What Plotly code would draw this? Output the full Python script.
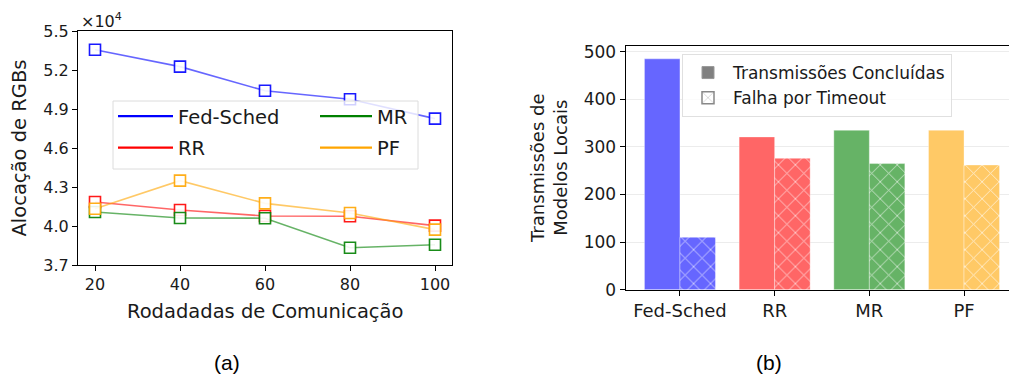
import plotly.graph_objects as go

W, H = 1009, 378

# ---------------- data ----------------
rounds = [20, 40, 60, 80, 100]
fed_sched = [53560, 52260, 50400, 49750, 48260]
rr = [41850, 41230, 40770, 40750, 40030]
mr = [41080, 40620, 40600, 38330, 38560]
pf = [41330, 43490, 41740, 41000, 39720]
yticks_left = [37000, 40000, 43000, 46000, 49000, 52000, 55000]
yticklabels_left = ["3.7", "4.0", "4.3", "4.6", "4.9", "5.2", "5.5"]

schemes = ["Fed-Sched", "RR", "MR", "PF"]
completed = [485, 321, 335, 335]
timeout = [110, 276, 265, 262]

line_colors = {"Fed-Sched": (0, 0, 255), "RR": (255, 0, 0), "MR": (0, 128, 0), "PF": (255, 165, 0)}
bar_colors = ["#6666FF", "#FF6666", "#66B366", "#FFC966"]

FONT = "DejaVu Sans"
BAR_W = 0.375


def px(x):
    return x / W


def py(y):
    return 1 - y / H


def rgba(c, a):
    return f"rgba({c[0]},{c[1]},{c[2]},{a})"


fig = go.Figure()

# ---------------- left: line chart ----------------
series = [("Fed-Sched", fed_sched), ("RR", rr), ("MR", mr), ("PF", pf)]
for name, vals in series:
    c = line_colors[name]
    fig.add_trace(go.Scatter(
        x=rounds, y=vals, mode="lines+markers", name=name, showlegend=False,
        line=dict(color=rgba(c, 0.6), width=1.6),
        marker=dict(symbol="square", size=11, color="rgba(255,255,255,0.9)",
                    line=dict(color=rgba(c, 0.9), width=1.6)),
        xaxis="x", yaxis="y"))

# legend-only entries (two columns)
for name, leg in [("Fed-Sched", "legend"), ("RR", "legend"), ("MR", "legend2"), ("PF", "legend2")]:
    c = line_colors[name]
    fig.add_trace(go.Scatter(
        x=[None], y=[None], mode="lines", name=name, legend=leg, legendgroup=name,
        line=dict(color=rgba(c, 1), width=2.2), xaxis="x", yaxis="y"))

# ---------------- right: bar chart ----------------
fig.add_trace(go.Bar(
    x=schemes, y=completed, name="Transmissões Concluídas", showlegend=False,
    width=BAR_W, offset=-BAR_W,
    marker=dict(color=bar_colors, line=dict(color="rgba(255,255,255,0.35)", width=1)),
    xaxis="x2", yaxis="y2"))
for s, v, col in zip(schemes, timeout, bar_colors):
    fig.add_trace(go.Bar(
        x=[s], y=[v], name="Falha por Timeout", showlegend=False,
        width=BAR_W, offset=0,
        marker=dict(color=col, line=dict(color="rgba(255,255,255,0.35)", width=1),
                    pattern=dict(shape="x", fillmode="overlay", bgcolor=col,
                                 fgcolor="white", fgopacity=0.7, size=12, solidity=0.14)),
        xaxis="x2", yaxis="y2"))
# legend entries for the bar chart
fig.add_trace(go.Bar(
    x=[None], y=[None], name="Transmissões Concluídas", legend="legend3",
    marker=dict(color="#808080", line=dict(color="#999999", width=1)),
    xaxis="x2", yaxis="y2"))
fig.add_trace(go.Bar(
    x=[None], y=[None], name="Falha por Timeout", legend="legend3",
    marker=dict(color="white", line=dict(color="#888888", width=1.5),
                pattern=dict(shape="x", fillmode="overlay", bgcolor="white",
                             fgcolor="#888888", size=10, solidity=0.15)),
    xaxis="x2", yaxis="y2"))

axis_common = dict(showline=True, linecolor="black", linewidth=1.2, ticks="outside",
                   ticklen=5, tickwidth=1.2, tickcolor="black", automargin=False,
                   zeroline=False)

fig.update_layout(
    width=W, height=H, margin=dict(l=0, r=0, t=0, b=0),
    paper_bgcolor="white", plot_bgcolor="white",
    font=dict(family=FONT, color="#1a1a1a"),
    barmode="overlay",
    xaxis=dict(domain=[px(78), px(452)], range=[16, 104], tickvals=rounds,
               mirror=True, showgrid=False, tickfont=dict(size=16), anchor="y", **axis_common),
    yaxis=dict(domain=[py(265), py(31)], range=[37000, 55000], tickvals=yticks_left,
               ticktext=yticklabels_left, mirror=True, showgrid=False,
               tickfont=dict(size=16), anchor="x", **axis_common),
    xaxis2=dict(domain=[px(625.7), 1.0], range=[-0.573, 3.475], mirror=True, showgrid=False,
                tickfont=dict(size=18), anchor="y2", **axis_common),
    yaxis2=dict(domain=[py(289.7), py(46)], range=[0, 512], tickvals=[0, 100, 200, 300, 400, 500],
                showgrid=True, gridcolor="#ececec", gridwidth=1,
                tickfont=dict(size=17), anchor="x2", **axis_common),
    legend=dict(x=px(113), y=py(97), xanchor="left", yanchor="top",
                bgcolor="rgba(0,0,0,0)", borderwidth=0, font=dict(size=19.5, family=FONT),
                tracegroupgap=3, itemwidth=55),
    legend2=dict(x=px(315), y=py(97), xanchor="left", yanchor="top",
                 bgcolor="rgba(0,0,0,0)", borderwidth=0, font=dict(size=19.5, family=FONT),
                 tracegroupgap=3, itemwidth=52),
    legend3=dict(x=px(682), y=py(54), xanchor="left", yanchor="top",
                 bgcolor="rgba(255,255,255,0.8)", bordercolor="#e0e0e0", borderwidth=1,
                 font=dict(size=17, family=FONT), itemwidth=40, tracegroupgap=2),
    shapes=[dict(type="rect", xref="paper", yref="paper",
                 x0=px(113), x1=px(418), y0=py(169), y1=py(101),
                 fillcolor="rgba(255,255,255,0.8)", line=dict(color="#dcdcdc", width=1),
                 layer="above")],
    annotations=[
        dict(text="×10<sup>4</sup>", x=px(79), y=py(20), xref="paper", yref="paper",
             xanchor="left", yanchor="middle", showarrow=False, font=dict(size=16)),
        dict(text="Rodadadas de Comunicação", x=px(265), y=py(311), xref="paper", yref="paper",
             xanchor="center", yanchor="middle", showarrow=False, font=dict(size=19.5)),
        dict(text="Alocação de RGBs", x=px(18.5), y=py(148), xref="paper", yref="paper",
             xanchor="center", yanchor="middle", showarrow=False, textangle=-90,
             font=dict(size=19.5)),
        dict(text="Transmissões de<br>Modelos Locais", x=px(549), y=py(168), xref="paper",
             yref="paper", xanchor="center", yanchor="middle", showarrow=False, textangle=-90,
             font=dict(size=18)),
        dict(text="(a)", x=px(227), y=py(362), xref="paper", yref="paper",
             xanchor="center", yanchor="middle", showarrow=False,
             font=dict(size=21, family="Liberation Sans", color="black")),
        dict(text="(b)", x=px(769), y=py(362), xref="paper", yref="paper",
             xanchor="center", yanchor="middle", showarrow=False,
             font=dict(size=21, family="Liberation Sans", color="black")),
    ],
)

fig.write_html("out.html")
